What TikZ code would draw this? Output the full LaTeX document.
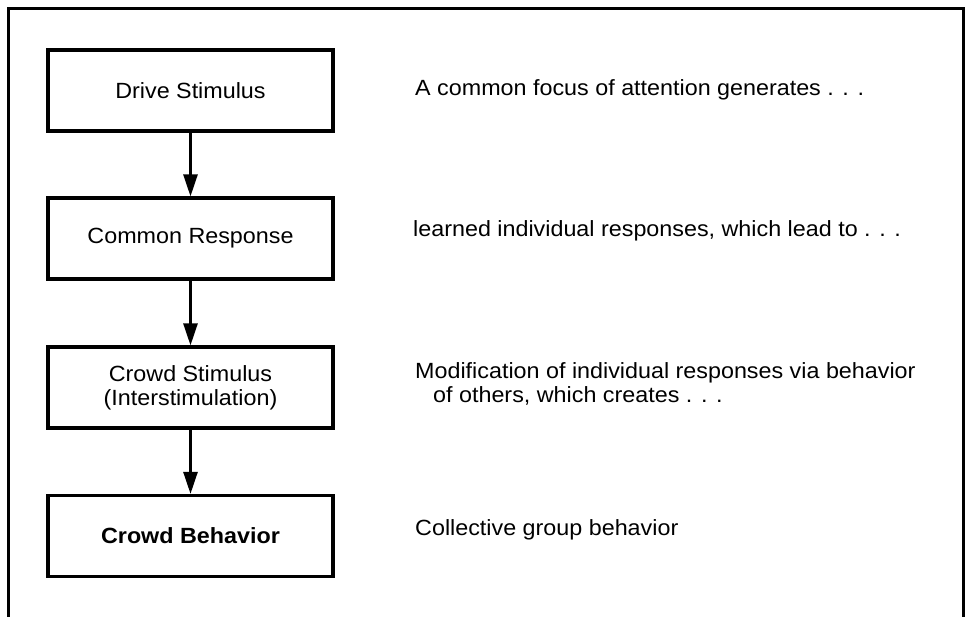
\documentclass[tikz,border=0pt]{standalone}
\usepackage{fontspec}
\setmainfont{Liberation Sans}[FakeStretch=1.06]
\usetikzlibrary{arrows.meta}
\begin{document}
\begin{tikzpicture}[x=1pt,y=-1pt,
  stagebox/.style={draw,line width=3.2pt,minimum width=285pt,minimum height=81pt,
    inner sep=0pt,align=center,font=\fontsize{22}{24}\selectfont},
  flowarrow/.style={line width=2.6pt,-{Triangle[width=14pt,length=22pt]}},
  desc/.style={anchor=base west,inner sep=0pt,font=\fontsize{22}{24}\selectfont},
  frameline/.style={line width=3pt}]
\useasboundingbox (0,0) rectangle (969,616);
\coordinate (fbl) at (8,617);
\coordinate (ftl) at (8,8);
\coordinate (ftr) at (963,8);
\coordinate (fbr) at (963,617);
\draw[frameline] (fbl) -- (ftl) -- (ftr) -- (fbr);

\node[stagebox] (drive) at (190.5,90.5) {\raisebox{-3pt}{Drive Stimulus}};
\node[stagebox] (resp) at (190.5,238.5) {Common Response};
\node[stagebox] (crowds) at (190.5,387.5) {Crowd Stimulus\\(Interstimulation)};
\node[stagebox,font=\fontsize{22}{24}\selectfont\bfseries] (behav) at (190.5,536) {Crowd Behavior};

\draw[flowarrow] (drive) -- (resp);
\draw[flowarrow] (resp) -- (crowds);
\draw[flowarrow] (crowds) -- (behav);

\node[desc] (d1) at (415,95) {A common focus of attention generates . . .};
\node[desc] (d2) at (413,236) {learned individual responses, which lead to . . .};
\node[desc] (d3a) at (415,378) {Modification of individual responses via behavior};
\node[desc] (d3b) at (433,402) {of others, which creates . . .};
\node[desc] (d4) at (415,535) {Collective group behavior};
\end{tikzpicture}
\end{document}
